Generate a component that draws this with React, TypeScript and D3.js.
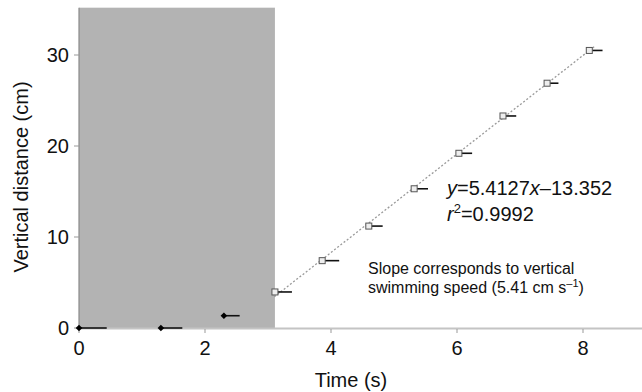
import React from "react";
import * as d3 from "d3";

const preTimes = [0, 1.3, 2.3];
const preDist = [0, 0, 1.35];
const preErr = [0.44, 0.34, 0.25];

const swimTimes = [3.11, 3.86, 4.6, 5.32, 6.03, 6.73, 7.43, 8.1];
const swimDist = [3.96, 7.4, 11.2, 15.3, 19.2, 23.3, 26.9, 30.5];
const swimErr = [0.27, 0.27, 0.22, 0.22, 0.21, 0.21, 0.18, 0.21];

const xTicks = [0, 2, 4, 6, 8];
const yTicks = [0, 10, 20, 30];
const shadeEnd = 3.11;
const fitSlope = 5.4127;
const fitIntercept = -13.352;
const fitRange = [3.1, 8.2];

export default function App() {
  const W = 642, H = 392;
  const x = d3.scaleLinear().domain([0, 8]).range([79, 583]);
  const y = d3.scaleLinear().domain([0, 30]).range([328, 55]);
  const font = "'Liberation Sans', Arial, Helvetica, sans-serif";
  const fitLine = d3.line<number>().x((t) => x(t)).y((t) => y(fitSlope * t + fitIntercept));
  const diamond = d3.symbol().type(d3.symbolSquare).size(22)();
  return (
    <svg width={W} height={H} style={{ position: "absolute", left: 0, top: 0, background: "#fff" }} fontFamily={font}>
      {/* shaded region */}
      <rect x={x(0)} y={y(35.2)} width={x(shadeEnd) - x(0)} height={y(0) - y(35.2)} fill="#b3b3b3" />
      {/* axes */}
      <line x1={x(0)} x2={W} y1={y(0) + 0.5} y2={y(0) + 0.5} stroke="#c4c4c4" strokeWidth={2} />
      <line x1={x(0)} x2={x(0)} y1={y(35.2)} y2={y(0) + 1} stroke="#8a8a8a" strokeWidth={1.2} />
      {xTicks.map((t) => (
        <g key={"xt" + t}>
          <line x1={x(t)} x2={x(t)} y1={y(0) + 1} y2={y(0) + 5} stroke="#999" strokeWidth={1} />
          <text x={x(t)} y={355} fontSize={20} textAnchor="middle" fill="#111">{t}</text>
        </g>
      ))}
      {yTicks.map((t) => (
        <g key={"yt" + t}>
          <line x1={x(0) - 5} x2={x(0)} y1={y(t)} y2={y(t)} stroke="#999" strokeWidth={1} />
          <text x={69} y={y(t)} dy="0.35em" fontSize={20} textAnchor="end" fill="#111">{t}</text>
        </g>
      ))}
      <text x={351} y={387} fontSize={20} textAnchor="middle" fill="#111">Time (s)</text>
      <text transform={`translate(28,177) rotate(-90)`} fontSize={20} textAnchor="middle" fill="#111">Vertical distance (cm)</text>
      {/* fit line */}
      <path d={fitLine(fitRange) || ""} fill="none" stroke="#999" strokeWidth={1.3} strokeDasharray="2,2" />
      {/* pre-swim points */}
      {preTimes.map((t, i) => (
        <g key={"p" + i}>
          <line x1={x(t)} x2={x(t + preErr[i])} y1={y(preDist[i])} y2={y(preDist[i])} stroke="#111" strokeWidth={1.6} />
          <path d={diamond || ""} transform={`translate(${x(t)},${y(preDist[i])}) rotate(45)`} fill="#000" />
        </g>
      ))}
      {/* swim points */}
      {swimTimes.map((t, i) => (
        <g key={"s" + i}>
          <line x1={x(t)} x2={x(t + swimErr[i])} y1={y(swimDist[i])} y2={y(swimDist[i])} stroke="#111" strokeWidth={1.6} />
          <rect x={x(t) - 3} y={y(swimDist[i]) - 3} width={6} height={6} fill="#eee" stroke="#555" strokeWidth={1} />
        </g>
      ))}
      {/* annotations */}
      <text x={447} y={195} fontSize={20} fill="#111">
        <tspan fontStyle="italic">y</tspan>=5.4127<tspan fontStyle="italic">x</tspan>–13.352
      </text>
      <text x={447} y={221} fontSize={20} fill="#111">
        <tspan fontStyle="italic">r</tspan><tspan fontSize={13} dy={-8}>2</tspan><tspan dy={8}>=0.9992</tspan>
      </text>
      <text x={368} y={274} fontSize={16} fill="#111">Slope corresponds to vertical</text>
      <text x={368} y={293} fontSize={16} fill="#111">
        swimming speed (5.41 cm s<tspan fontSize={11} dy={-6}>–1</tspan><tspan dy={6}>)</tspan>
      </text>
    </svg>
  );
}
